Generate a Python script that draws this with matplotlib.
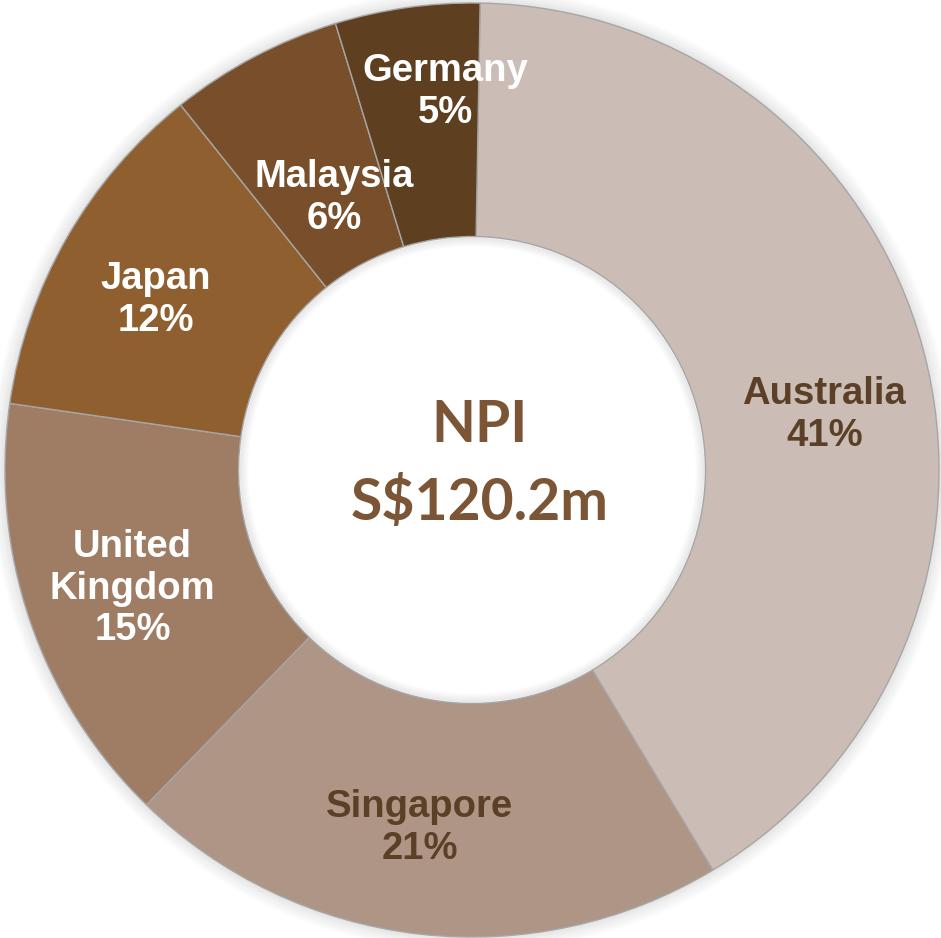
import numpy as np
import matplotlib.pyplot as plt
from matplotlib.patches import Wedge

countries = ['Australia', 'Singapore', 'United\nKingdom', 'Japan', 'Malaysia', 'Germany']
shares = [41.1, 20.9, 15.0, 12.0, 6.0, 5.0]
colors = ['#CBBDB5', '#AF9585', '#9F7C64', '#8F5F30', '#784F2A', '#5E3F20']
text_colors = ['#5B4027', '#5B4027', 'white', 'white', 'white', 'white']
# nudges for the label text, in pixels
nudges = [(14, -36), (-12, -10), (-8, -6), (-12, -4), (26, -38), (22, 31)]
total_text = ['NPI', 'S$120.2m']

W, H = 941, 938
cx, cy, R = 472, 470, 467
hole = 0.50

fig = plt.figure(figsize=(W / 100, H / 100), dpi=100)
ax = fig.add_axes([0, 0, 1, 1])

# soft shadow round the ring
for k in range(14):
    ax.add_patch(Wedge((0, 0), 1 + 0.0025 * k, 0, 360, width=0.006,
                       facecolor='black', alpha=0.05 * (1 - k / 14), lw=0))
for k in range(10):
    ax.add_patch(Wedge((0, 0), hole - 0.002 * k, 0, 360, width=0.005,
                       facecolor='black', alpha=0.04 * (1 - k / 10), lw=0))

wedges, _ = ax.pie(shares, colors=colors, startangle=89, counterclock=False,
                   radius=1, wedgeprops=dict(width=1 - hole, edgecolor='#A6A6A6', linewidth=1.0))

for w, name, s, tc, (dx, dy) in zip(wedges, countries, shares, text_colors, nudges):
    mid = np.deg2rad((w.theta1 + w.theta2) / 2)
    r = (1 + hole) / 2
    ax.annotate(f'{name}\n{round(s)}%', (r * np.cos(mid), r * np.sin(mid)),
                xytext=(dx, dy), textcoords='offset pixels',
                ha='center', va='center', color=tc, fontsize=27.5,
                fontweight='bold', family='Liberation Sans', linespacing=1.2)

ax.text(0.017, 0.095, total_text[0], ha='center', va='center', fontsize=41,
        fontweight='bold', family='Lato', color='#7B5535')
ax.text(0.017, -0.07, total_text[1], ha='center', va='center', fontsize=41,
        fontweight='bold', family='Lato', color='#7B5535')

ax.set_xlim(-cx / R, (W - cx) / R)
ax.set_ylim((cy - H) / R, cy / R)
ax.set_aspect('equal', adjustable='datalim')
ax.axis('off')

fig.savefig('out.png', dpi=100, facecolor='white')
